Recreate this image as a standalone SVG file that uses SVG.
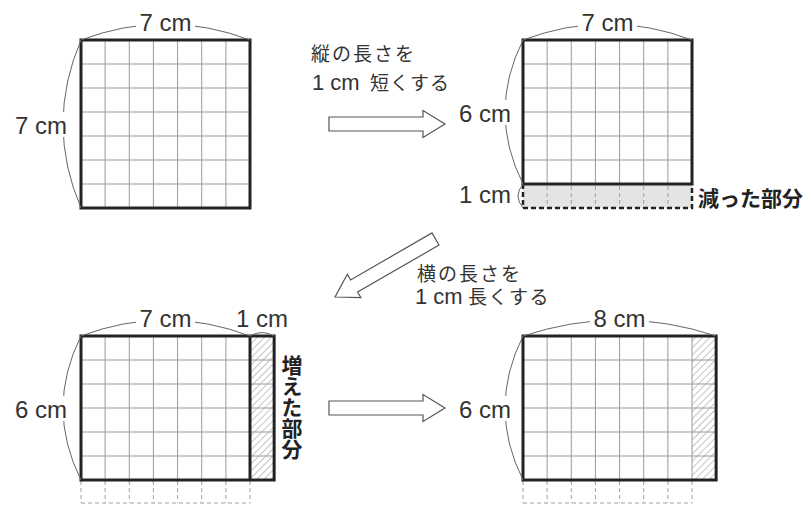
<svg xmlns="http://www.w3.org/2000/svg" width="810" height="505" viewBox="0 0 810 505">
<style>
.bg{fill:#fff}
.grid{stroke:#9a9a9a;stroke-width:1;fill:none}
.thick{stroke:#222;stroke-width:3;fill:none}
.arc{stroke:#666;stroke-width:1;fill:none}
.dgrid{stroke:#a0a0a0;stroke-width:1;fill:none;stroke-dasharray:4,3}
.dthick{stroke:#222;stroke-width:2.5;fill:none;stroke-dasharray:5,3}
.dim{font-family:"Liberation Sans",Arial,sans-serif;font-size:24px;fill:#333}
.jp{font-family:"Liberation Sans","Noto Sans CJK JP",sans-serif;font-size:19px;fill:#333}
.num{font-size:22px}
.jpb{font-family:"Noto Sans CJK JP",sans-serif;font-size:21px;font-weight:bold;fill:#222}
.arrow{fill:#fff;stroke:#555;stroke-width:1.2}
</style>
<defs>
<pattern id="hatch" width="5" height="5" patternUnits="userSpaceOnUse" patternTransform="rotate(45)">
<line x1="0" y1="0" x2="0" y2="5" stroke="#8a8a8a" stroke-width="1"/>
</pattern>
<path id="blockArrow" d="M0,-7 H94 V-13.5 L116,0 L94,13.5 V7 H0 Z"/>
</defs>
<rect class="bg" x="0" y="0" width="810" height="505"/>

<g id="square-7x7">
<path class="grid" d="M105.1,40V208 M129.3,40V208 M153.4,40V208 M177.6,40V208 M201.7,40V208 M225.9,40V208 M81,64H250 M81,88H250 M81,112H250 M81,136H250 M81,160H250 M81,184H250"/>
<rect class="thick" x="81" y="40" width="169" height="168"/>
<path class="arc" d="M81,40 Q165.5,8 250,40 M81,40 Q45,124 81,208"/>
<rect class="bg" x="136" y="10" width="59" height="24"/>
<rect class="bg" x="12" y="112" width="58" height="25"/>
<text class="dim" x="165.5" y="31" text-anchor="middle">7 cm</text>
<text class="dim" x="67" y="134" text-anchor="end">7 cm</text>
</g>

<g id="rect-7x6-reduced">
<rect x="523" y="184" width="169" height="24" fill="#e4e4e4"/>
<path class="dgrid" d="M547.1,186V206 M571.3,186V206 M595.4,186V206 M619.6,186V206 M643.7,186V206 M667.9,186V206"/>
<path class="dthick" d="M523,184 V208 H692 V184"/>
<path class="grid" d="M547.1,40V184 M571.3,40V184 M595.4,40V184 M619.6,40V184 M643.7,40V184 M667.9,40V184 M523,64H692 M523,88H692 M523,112H692 M523,136H692 M523,160H692"/>
<rect class="thick" x="523" y="40" width="169" height="144"/>
<path class="arc" d="M523,40 Q607.5,8 692,40 M523,40 Q487,112 523,184 M523,184 Q513,196 523,208"/>
<rect class="bg" x="578" y="10" width="59" height="24"/>
<rect class="bg" x="454" y="100" width="60" height="25"/>
<text class="dim" x="607.5" y="31" text-anchor="middle">7 cm</text>
<text class="dim" x="511" y="122" text-anchor="end">6 cm</text>
<text class="dim" x="511" y="203" text-anchor="end">1 cm</text>
<text class="jpb" x="698" y="205.5">減った部分</text>
</g>

<g id="rect-7x6-extended">
<rect x="250" y="336" width="24.14" height="144" fill="url(#hatch)"/>
<path class="grid" d="M105.1,336V480 M129.3,336V480 M153.4,336V480 M177.6,336V480 M201.7,336V480 M225.9,336V480 M81,360H274.14 M81,384H274.14 M81,408H274.14 M81,432H274.14 M81,456H274.14"/>
<path class="dgrid" d="M81,481V503 M105.1,481V503 M129.3,481V503 M153.4,481V503 M177.6,481V503 M201.7,481V503 M225.9,481V503 M250,481V503 M81,503H250"/>
<rect class="thick" x="81" y="336" width="193.14" height="144"/>
<line class="thick" x1="250" y1="336" x2="250" y2="480"/>
<path class="arc" d="M81,336 Q165.5,304 250,336 M81,336 Q45,408 81,480 M250,336 Q262,329 274.14,336"/>
<rect class="bg" x="136" y="306" width="59" height="24"/>
<rect class="bg" x="12" y="396" width="58" height="25"/>
<text class="dim" x="165.5" y="327" text-anchor="middle">7 cm</text>
<text class="dim" x="262" y="327" text-anchor="middle">1 cm</text>
<text class="dim" x="67" y="418" text-anchor="end">6 cm</text>
<text class="jpb" x="292" y="355" style="writing-mode:vertical-rl">増えた部分</text>
</g>

<g id="rect-8x6">
<rect x="692" y="336" width="24.14" height="144" fill="url(#hatch)"/>
<path class="grid" d="M547.1,336V480 M571.3,336V480 M595.4,336V480 M619.6,336V480 M643.7,336V480 M667.9,336V480 M692,336V480 M523,360H716.14 M523,384H716.14 M523,408H716.14 M523,432H716.14 M523,456H716.14"/>
<path class="dgrid" d="M523,481V503 M547.1,481V503 M571.3,481V503 M595.4,481V503 M619.6,481V503 M643.7,481V503 M667.9,481V503 M692,481V503 M523,503H692"/>
<rect class="thick" x="523" y="336" width="193.14" height="144"/>
<path class="arc" d="M523,336 Q619.5,304 716.14,336 M523,336 Q487,408 523,480"/>
<rect class="bg" x="590" y="306" width="59" height="24"/>
<rect class="bg" x="454" y="396" width="60" height="25"/>
<text class="dim" x="619.5" y="327" text-anchor="middle">8 cm</text>
<text class="dim" x="511" y="418" text-anchor="end">6 cm</text>
</g>

<g id="connectors">
<use href="#blockArrow" class="arrow" transform="translate(329,124)"/>
<use href="#blockArrow" class="arrow" transform="translate(435.5,239) rotate(150)"/>
<use href="#blockArrow" class="arrow" transform="translate(329,408)"/>
<text class="jp" x="311" y="61" letter-spacing="2">縦の長さを</text>
<text class="jp" y="90"><tspan class="num" x="312">1 cm</tspan><tspan x="370" letter-spacing="1">短くする</tspan></text>
<text class="jp" x="417" y="281" letter-spacing="2">横の長さを</text>
<text class="jp" y="304"><tspan class="num" x="415">1 cm</tspan><tspan x="468" letter-spacing="1.5">長くする</tspan></text>
</g>
</svg>
